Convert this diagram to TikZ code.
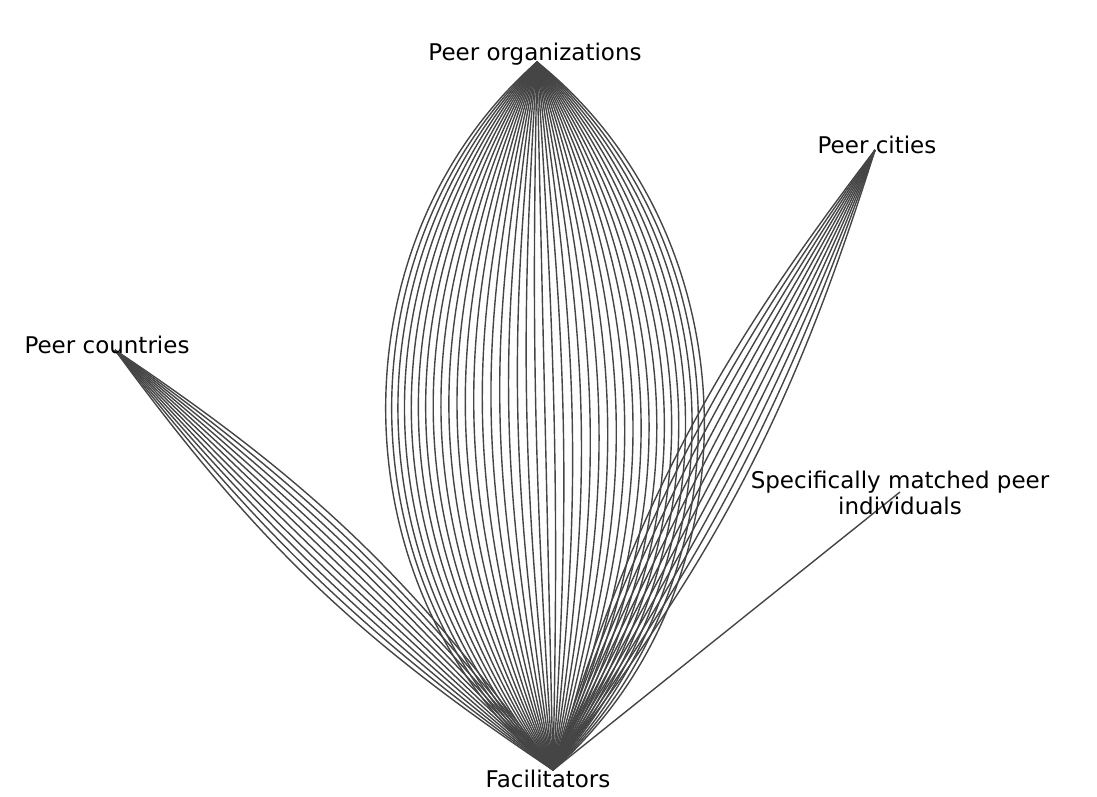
\documentclass[tikz,border=0pt]{standalone}
\usepackage{fontspec}
\setmainfont{DejaVu Sans}
\begin{document}
\begin{tikzpicture}[x=1pt,y=-1pt,
  lbl/.style={font=\fontsize{23}{26}\selectfont,inner sep=0pt,align=center},
  edge/.style={draw=black!73,line width=1.4pt}]
\useasboundingbox (0,0) rectangle (1097,797);
\coordinate (F) at (553,770);
\coordinate (O) at (537,62);
\coordinate (C) at (875,150);
\coordinate (K) at (115,350);
\coordinate (I) at (900,492);
\foreach \a in {-50,-47.5,...,50} \draw[edge] (F) to[bend left=\a] (O);
\foreach \a in {-10,-8,...,10} \draw[edge] (F) to[bend left=\a] (C);
\foreach \a in {-10,-8,...,10} \draw[edge] (F) to[bend left=\a] (K);
\draw[edge] (F) -- (I);
\node[lbl] (lo) at (535,54) {Peer organizations};
\node[lbl] (lc) at (877,145) {Peer cities};
\node[lbl] (lk) at (107,345) {Peer countries};
\node[lbl] (li) at (900,493) {Specifically matched peer\\individuals};
\node[lbl] (lf) at (548,779) {Facilitators};
\end{tikzpicture}
\end{document}
